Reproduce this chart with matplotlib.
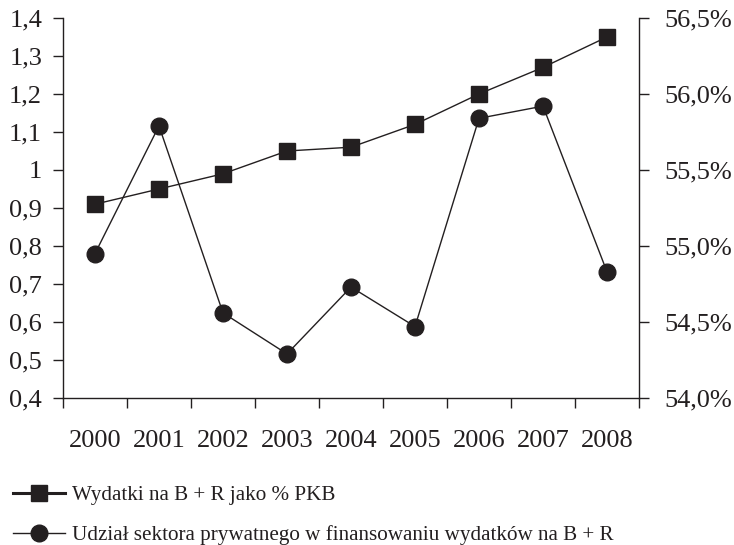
import matplotlib.pyplot as plt
from matplotlib.lines import Line2D
from matplotlib.ticker import FixedLocator

plt.rcParams['font.family'] = 'Liberation Serif'

INK = '#231f20'

years = ['2000', '2001', '2002', '2003', '2004', '2005', '2006', '2007', '2008']
# R&D spending as % of GDP (left axis)
spending = [0.91, 0.95, 0.99, 1.05, 1.06, 1.12, 1.20, 1.27, 1.35]
# private sector share in R&D financing, % (right axis)
private_share = [54.95, 55.79, 54.56, 54.29, 54.73, 54.47, 55.84, 55.92, 54.83]

left_ticks = [0.4, 0.5, 0.6, 0.7, 0.8, 0.9, 1.0, 1.1, 1.2, 1.3, 1.4]
left_labels = ['0,4', '0,5', '0,6', '0,7', '0,8', '0,9', '1', '1,1', '1,2', '1,3', '1,4']
right_ticks = [54.0, 54.5, 55.0, 55.5, 56.0, 56.5]
right_labels = ['54,0%', '54,5%', '55,0%', '55,5%', '56,0%', '56,5%']

label_a = 'Wydatki na B + R jako % PKB'
label_b = 'Udział sektora prywatnego w finansowaniu wydatków na B + R'

fig = plt.figure(figsize=(7.34, 5.45), dpi=100)
ax = fig.add_axes([0.0858, 0.2697, 0.7848, 0.6973])
ax2 = ax.twinx()

x = list(range(len(years)))
ax.plot(x, spending, color=INK, lw=1, marker='s', ms=11, zorder=3)
ax2.plot(x, private_share, color=INK, lw=1, marker='o', ms=12)

ax.set_xlim(-0.5, len(years) - 0.5)
ax.set_ylim(0.4, 1.4)
ax2.set_ylim(54.0, 56.5)

ax.set_yticks(left_ticks)
ax.set_yticklabels(left_labels)
ax2.set_yticks(right_ticks)
ax2.set_yticklabels(right_labels)

ax.set_xticks(x)
ax.set_xticklabels(years)
ax.xaxis.set_minor_locator(FixedLocator([i - 0.5 for i in range(len(years) + 1)]))
ax.tick_params(axis='x', which='major', length=0, pad=23, labelsize=19, colors=INK)
ax.tick_params(axis='x', which='minor', length=7, width=1, direction='out', color=INK)
ax.tick_params(axis='y', length=7, width=1, pad=8, labelsize=19, colors=INK)
ax2.tick_params(axis='y', length=7, width=1, pad=11, labelsize=19, colors=INK)

for a in (ax, ax2):
    a.spines['top'].set_visible(False)
    for s in ('left', 'right', 'bottom'):
        a.spines[s].set_color(INK)
        a.spines[s].set_linewidth(1)
ax.spines['right'].set_visible(False)
ax2.spines['left'].set_visible(False)
ax2.spines['bottom'].set_visible(False)

handles = [
    Line2D([], [], color=INK, lw=2.2, marker='s', ms=11),
    Line2D([], [], color=INK, lw=1, marker='o', ms=12),
]
fig.legend(handles, [label_a, label_b], loc='lower left',
           bbox_to_anchor=(0.0, -0.024), frameon=False, fontsize=15.2,
           handlelength=2.5, handletextpad=0.3, labelspacing=0.95,
           borderaxespad=0.2, labelcolor=INK)

fig.savefig('out.png', dpi=100)
